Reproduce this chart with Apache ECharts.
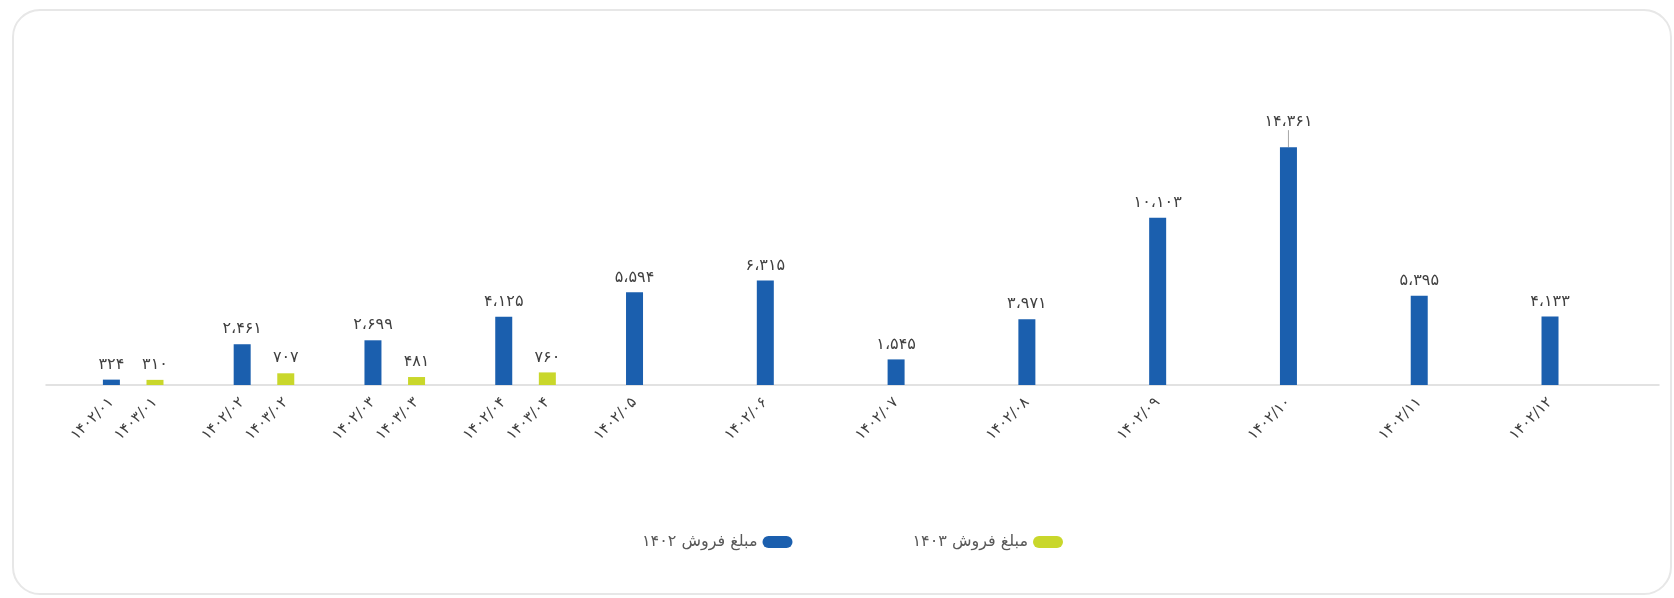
<!DOCTYPE html>
<html>
<head>
<meta charset="utf-8">
<script src="https://cdn.jsdelivr.net/npm/echarts@6/dist/echarts.min.js"></script>
<style>
  html, body { margin: 0; padding: 0; background: #ffffff; }
  #chart { position: absolute; left: 0; top: 0; width: 1674px; height: 598px; }
  #frame { position: absolute; left: 12px; top: 9px; width: 1660px; height: 586px;
           border: 2px solid #e7e7e7; border-radius: 28px; box-sizing: border-box; pointer-events: none; }
</style>
</head>
<body>
<div id="chart"></div>
<div id="frame"></div>
<script>
// ---- data ----
const labels1402 = ['۱۴۰۲/۰۱','۱۴۰۲/۰۲','۱۴۰۲/۰۳','۱۴۰۲/۰۴','۱۴۰۲/۰۵','۱۴۰۲/۰۶',
                    '۱۴۰۲/۰۷','۱۴۰۲/۰۸','۱۴۰۲/۰۹','۱۴۰۲/۱۰','۱۴۰۲/۱۱','۱۴۰۲/۱۲'];
const labels1403 = ['۱۴۰۳/۰۱','۱۴۰۳/۰۲','۱۴۰۳/۰۳','۱۴۰۳/۰۴'];
const sales1402 = [324, 2461, 2699, 4125, 5594, 6315, 1545, 3971, 10103, 14361, 5395, 4133];
const sales1403 = [310, 707, 481, 760];
const seriesNames = ['مبلغ فروش ۱۴۰۲', 'مبلغ فروش ۱۴۰۳'];

// ---- build slotted category axis (3 slots per month + one trailing slot) ----
const slotCount = labels1402.length * 3 + 1;
const categories = [];
const data1402 = [];
const data1403 = [];
for (let k = 0; k < slotCount; k++) { categories.push(''); data1402.push('-'); data1403.push('-'); }
const maxIdx = sales1402.indexOf(Math.max.apply(null, sales1402));
labels1402.forEach((lab, i) => {
  categories[3 * i + 1] = lab;
  if (i === maxIdx) {
    data1402[3 * i + 1] = { value: sales1402[i], labelLine: { show: true } };
  } else {
    data1402[3 * i + 1] = sales1402[i];
  }
});
labels1403.forEach((lab, i) => {
  categories[3 * i + 2] = lab;
  data1403[3 * i + 2] = sales1403[i];
});
const maxSlot = 3 * maxIdx + 1;

function faNum(n) {
  const digits = '۰۱۲۳۴۵۶۷۸۹';
  return String(n).replace(/\B(?=(\d{3})+(?!\d))/g, '،').replace(/\d/g, d => digits[+d]);
}

const FONT = "'DejaVu Sans', 'Noto Sans', sans-serif";
const chart = echarts.init(document.getElementById('chart'), null, { renderer: 'canvas' });

const barLabel = {
  show: true, position: 'top', distance: 7,
  color: '#404040', fontSize: 16, fontFamily: FONT,
  formatter: p => faNum(typeof p.value === 'object' ? p.value.value : p.value)
};

chart.setOption({
  animation: false,
  backgroundColor: '#ffffff',
  grid: { left: 46, right: 15, top: 120, bottom: 213, containLabel: false },
  legend: {
    data: seriesNames,
    left: 637, top: 529,
    align: 'right',
    icon: 'path://M6,0 L24,0 A6,6 0 0 1 24,12 L6,12 A6,6 0 0 1 6,0 Z',
    itemWidth: 30, itemHeight: 12, itemGap: 120,
    textStyle: { fontSize: 16, color: '#595959', fontFamily: FONT }
  },
  xAxis: {
    type: 'category',
    data: categories,
    axisTick: { show: false },
    axisLine: { lineStyle: { color: '#d9d9d9', width: 1.5 } },
    axisLabel: { interval: 0, rotate: 45, margin: 15, color: '#404040', fontSize: 15, fontFamily: FONT }
  },
  yAxis: { type: 'value', min: 0, max: 16000, show: false, splitLine: { show: false } },
  series: [
    {
      name: seriesNames[0], type: 'bar', data: data1402,
      barWidth: 17, barGap: '-100%',
      itemStyle: { color: '#1b5fae' },
      label: barLabel,
      labelLine: { show: false, lineStyle: { color: '#a6a6a6', width: 1 } },
      labelLayout: function (params) {
        if (params.dataIndex === maxSlot) { return { dy: -10 }; }
        return {};
      }
    },
    {
      name: seriesNames[1], type: 'bar', data: data1403,
      barWidth: 17, barGap: '-100%',
      itemStyle: { color: '#c9d72b' },
      label: barLabel
    }
  ]
});
</script>
</body>
</html>
